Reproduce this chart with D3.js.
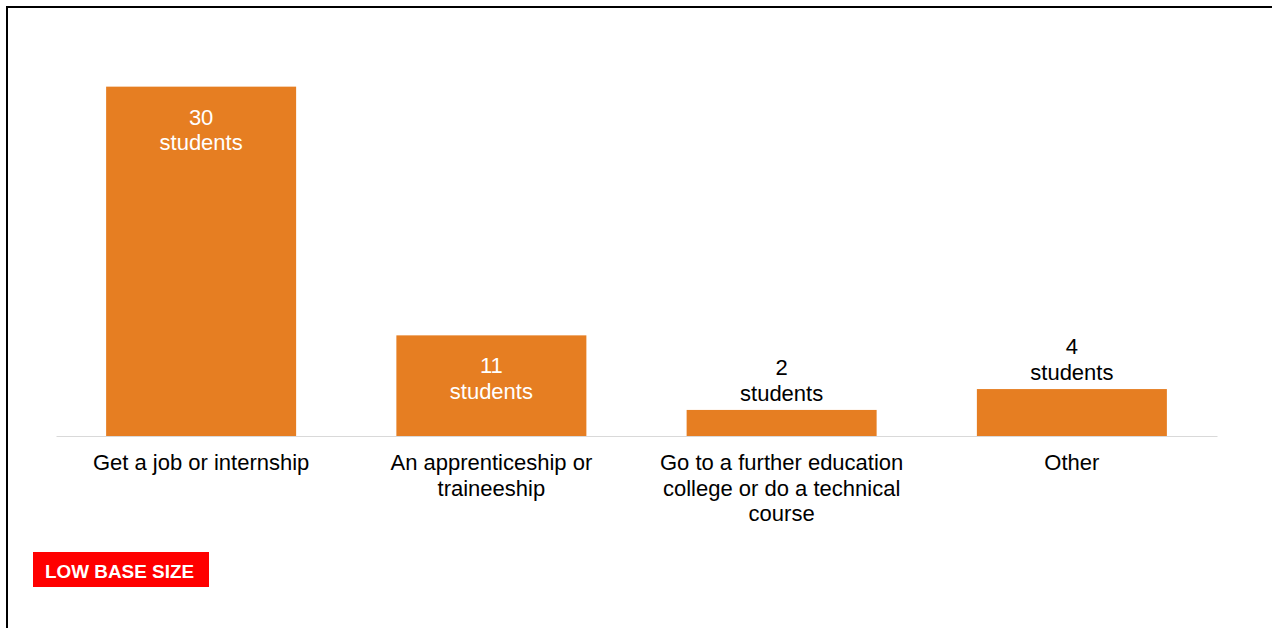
<!DOCTYPE html>
<html>
<head>
<meta charset="utf-8">
<script src="https://cdn.jsdelivr.net/npm/d3@7"></script>
<style>
  html, body { margin: 0; padding: 0; background: #fff; }
  svg { display: block; font-family: "Liberation Sans", Arial, sans-serif; }
</style>
</head>
<body>
<svg id="chart" width="1272" height="628"></svg>
<script>
// ---- data ----
const categories = [
  "Get a job or internship",
  "An apprenticeship or traineeship",
  "Go to a further education college or do a technical course",
  "Other"
];
const categoryLines = [
  ["Get a job or internship"],
  ["An apprenticeship or", "traineeship"],
  ["Go to a further education", "college or do a technical", "course"],
  ["Other"]
];
const shares = [67, 19.3, 5, 9];        // bar heights (% share)
const counts = [30, 11, 2, 4];          // student counts shown in labels
const countUnit = "students";
const noteText = "LOW BASE SIZE";

// ---- drawing ----
const svg = d3.select("#chart");
const W = 1272, H = 628;
const baseY = 436;
const fontSize = 22;
const lineH = 25.6;
const orange = "#E67E22";

// frame
svg.append("rect")
  .attr("x", 7).attr("y", 7)
  .attr("width", W + 20).attr("height", H + 20)
  .attr("fill", "none").attr("stroke", "#000").attr("stroke-width", 2);

const x = d3.scaleBand()
  .domain(categories)
  .range([56, 1217])
  .paddingInner(0.3454)
  .paddingOuter(0.1727);

const y = d3.scaleLinear()
  .domain([0, 70])
  .range([baseY, baseY - 365]);

const data = categories.map((c, i) => ({ cat: c, share: shares[i], count: counts[i], lines: categoryLines[i] }));

// bars
svg.append("g").selectAll("rect")
  .data(data).join("rect")
  .attr("x", d => x(d.cat))
  .attr("y", d => y(d.share))
  .attr("width", x.bandwidth())
  .attr("height", d => y(0) - y(d.share))
  .attr("fill", orange);

// axis
const axis = svg.append("g")
  .attr("transform", `translate(0,${baseY})`)
  .call(d3.axisBottom(x).tickSize(0).tickSizeOuter(0));
axis.select(".domain").attr("stroke", "#d9d9d9").attr("stroke-width", 1);
axis.selectAll(".tick text").each(function(d, i) {
  const t = d3.select(this);
  t.text(null)
    .attr("y", 0).attr("dy", null)
    .attr("font-size", fontSize)
    .attr("font-family", "Liberation Sans, Arial, sans-serif")
    .attr("fill", "#000");
  categoryLines[i].forEach((ln, j) => {
    t.append("tspan").attr("x", 0).attr("y", 34 + j * lineH).text(ln);
  });
});

// value labels
const insideThreshold = 15;
const labels = svg.append("g").selectAll("text")
  .data(data).join("text")
  .attr("text-anchor", "middle")
  .attr("font-size", fontSize)
  .attr("fill", d => d.share > insideThreshold ? "#fff" : "#000");
labels.each(function(d) {
  const t = d3.select(this);
  const cx = x(d.cat) + x.bandwidth() / 2;
  const top = y(d.share);
  const y1 = d.share > insideThreshold ? top + 38 : top - 9 - lineH;
  t.append("tspan").attr("x", cx).attr("y", y1).text(d.count);
  t.append("tspan").attr("x", cx).attr("y", y1 + lineH).text(countUnit);
});

// low base size note
svg.append("rect")
  .attr("x", 33).attr("y", 552)
  .attr("width", 176).attr("height", 35)
  .attr("fill", "#ff0000");
svg.append("text")
  .attr("x", 45).attr("y", 578)
  .attr("font-size", 18.9)
  .attr("font-weight", "bold")
  .attr("fill", "#fff")
  .text(noteText);
</script>
</body>
</html>
